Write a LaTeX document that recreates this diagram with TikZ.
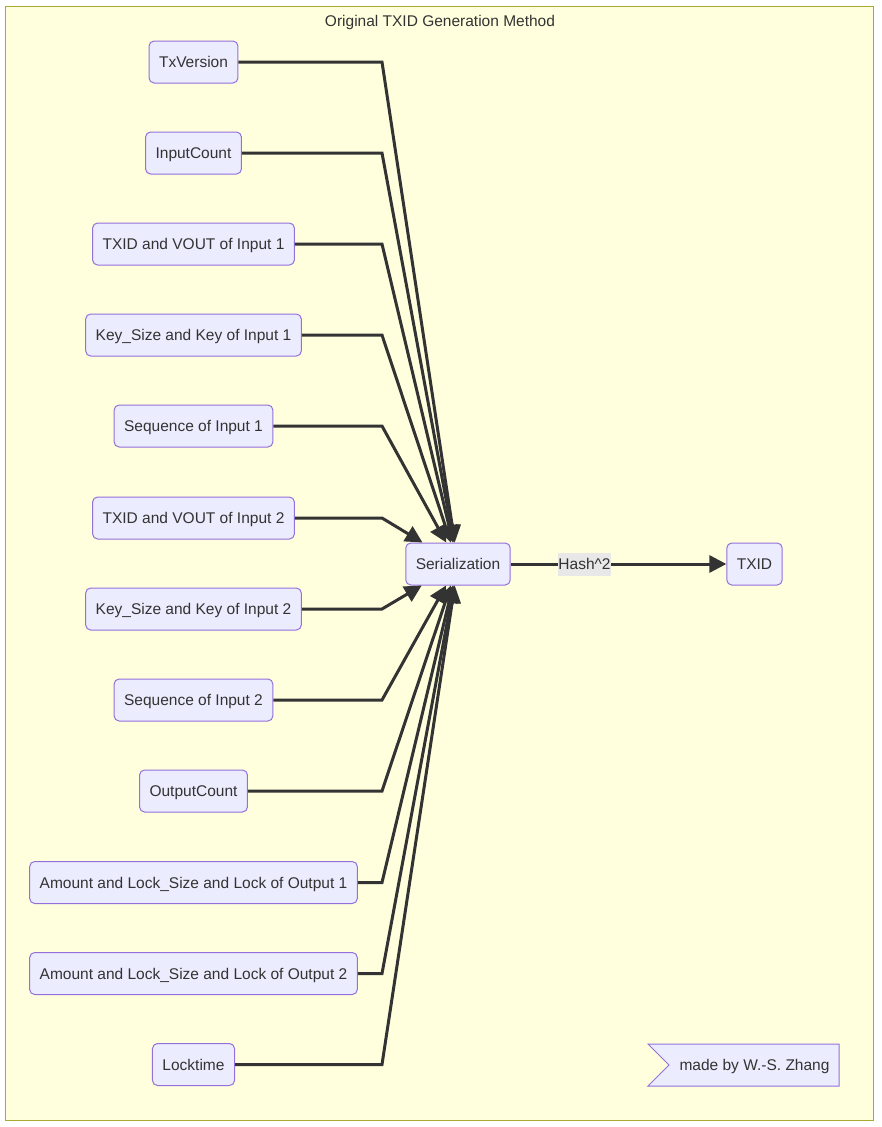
\documentclass[tikz,border=0pt]{standalone}
\usepackage{fontspec}
\setmainfont{Liberation Sans}
\usetikzlibrary{arrows.meta}
\definecolor{frameFill}{HTML}{FFFFDE}
\definecolor{frameStroke}{HTML}{AAAA33}
\definecolor{nodeFill}{HTML}{ECECFF}
\definecolor{nodeStroke}{HTML}{9370DB}
\definecolor{lineCol}{HTML}{333333}
\definecolor{textCol}{HTML}{333333}
\definecolor{labelFill}{HTML}{E8E8E8}
\newcommand{\fsz}{\fontsize{15.5}{18}\selectfont}
\tikzset{
  box/.style={draw=nodeStroke, fill=nodeFill, rounded corners=5pt, line width=1pt,
    minimum height=42pt, inner xsep=10pt, inner ysep=0pt, text=textCol, font=\fsz,
    text height=11pt, text depth=0pt},
  flow/.style={draw=lineCol, line width=3pt, line join=miter,
    -{Triangle[length=17pt,width=17pt]}},
  elabel/.style={fill=labelFill, inner xsep=0.5pt, inner ysep=6pt, text=textCol, font=\fsz,
    text height=11pt, text depth=0pt},
  plain/.style={text=textCol, font=\fsz, inner sep=0pt, text height=11pt, text depth=0pt}
}
\begin{document}
\begin{tikzpicture}[x=1pt,y=-1pt]
\useasboundingbox (0,0) rectangle (881,1127);
\fill[white] (0,0) rectangle (881,1127);
\draw[fill=frameFill, draw=frameStroke, line width=1pt] (5.5,6.5) rectangle (873.5,1120.5);
\node[plain] (title) at (440,21) {Original TXID Generation Method};

\node[box] (v) at (193.5,62) {TxVersion};
\node[box] (ic) at (193.5,153) {InputCount};
\node[box] (t1) at (193.5,244) {TXID and VOUT of Input 1};
\node[box] (k1) at (193.5,335) {Key\_Size and Key of Input 1};
\node[box] (s1) at (193.5,426) {Sequence of Input 1};
\node[box] (t2) at (193.5,518) {TXID and VOUT of Input 2};
\node[box] (k2) at (193.5,609) {Key\_Size and Key of Input 2};
\node[box] (s2) at (193.5,700) {Sequence of Input 2};
\node[box] (oc) at (193.5,791) {OutputCount};
\node[box] (o1) at (193.5,882.5) {Amount and Lock\_Size and Lock of Output 1};
\node[box] (o2) at (193.5,973.5) {Amount and Lock\_Size and Lock of Output 2};
\node[box] (lt) at (193.5,1064.5) {Locktime};

\node[box] (ser) at (458,564) {Serialization};
\node[box] (txid) at (754.5,564) {TXID};

\foreach \n/\y in {v/62, ic/153, t1/244, k1/335, s1/426, t2/518, k2/609, s2/700, oc/791, o1/882.5, o2/973.5, lt/1064.5}{
  \draw[flow] (\n.east) -- (382,\y) -- (ser);
}
\draw[flow] (ser) -- (txid);
\node[elabel] (hash) at (584.5,564) {Hash\^{}2};

\fill[nodeFill] (648,1044) -- (839,1044) -- (839,1086) -- (648,1086) -- (669,1065) -- cycle;
\draw[nodeStroke, line width=1pt, line join=miter] (648,1044) -- (839,1044) -- (839,1086) -- (648,1086) -- (669,1065) -- cycle;
\node[plain] (credit) at (754.5,1065) {made by W.-S. Zhang};
\end{tikzpicture}
\end{document}
